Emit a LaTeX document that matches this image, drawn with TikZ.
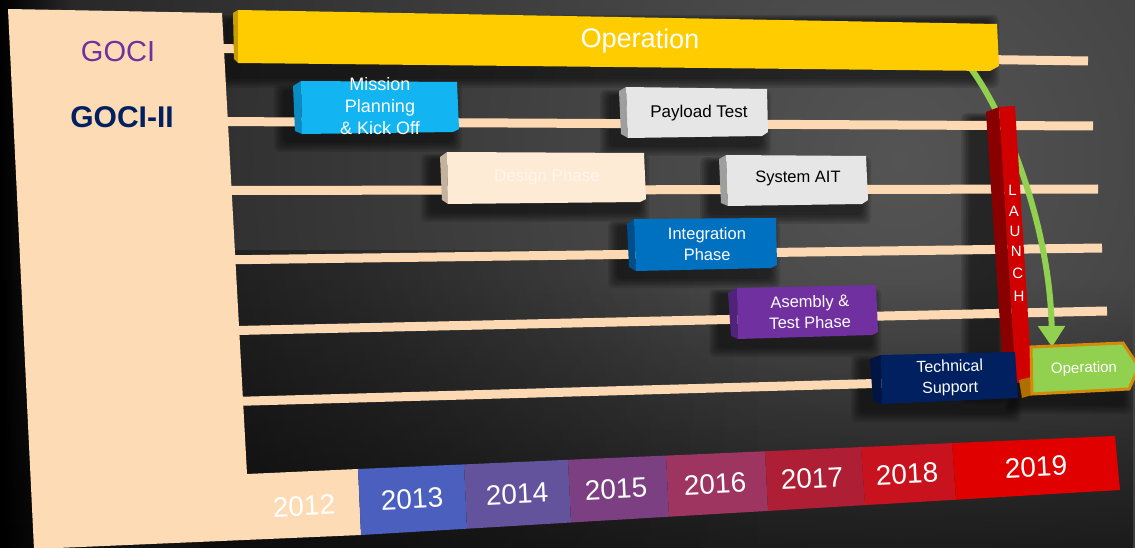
\documentclass[tikz,border=0pt]{standalone}
\usepackage{fontspec}
\setmainfont{Liberation Sans}
\usetikzlibrary{arrows.meta,fadings}

\definecolor{bglight}{HTML}{545454}
\definecolor{bgdark}{HTML}{0E0E0E}
\definecolor{peach}{HTML}{FDDCB5}
\definecolor{peachline}{HTML}{FCD9B2}
\definecolor{gold}{HTML}{FFCC00}
\definecolor{golddark}{HTML}{C99C00}
\definecolor{cyanbox}{HTML}{12B4F2}
\definecolor{cyanside}{HTML}{0A8CC2}
\definecolor{greybox}{HTML}{E6E6E6}
\definecolor{greyside}{HTML}{9E9E9E}
\definecolor{creambox}{HTML}{FDEBD6}
\definecolor{creamside}{HTML}{C4B19E}
\definecolor{creamtext}{HTML}{FFF5EA}
\definecolor{bluebox}{HTML}{0070C0}
\definecolor{blueside}{HTML}{004F8A}
\definecolor{purplebox}{HTML}{7030A0}
\definecolor{purpleside}{HTML}{50227A}
\definecolor{navybox}{HTML}{002060}
\definecolor{navyside}{HTML}{001542}
\definecolor{launchred}{HTML}{D00000}
\definecolor{launchside}{HTML}{880000}
\definecolor{opgreen}{HTML}{92D050}
\definecolor{oporange}{HTML}{D48A0A}
\definecolor{oporangedark}{HTML}{B06E00}
\definecolor{gocipurple}{HTML}{7030A0}
\definecolor{gocinavy}{HTML}{002060}
\definecolor{yrA}{HTML}{4A5FBE}
\definecolor{yrB}{HTML}{63539C}
\definecolor{yrC}{HTML}{7C3F82}
\definecolor{yrD}{HTML}{9E3560}
\definecolor{yrE}{HTML}{AE1E35}
\definecolor{yrF}{HTML}{C8131E}
\definecolor{yrG}{HTML}{E00000}

% soft shadow made of stacked translucent rectangles
\newcommand\dropshade[4]{%
  \foreach \k in {0,1,2,3,4,5}{%
    \fill[black, opacity=0.11, rounded corners=5pt]
      ({#1-10-1.8*\k},{#2+6-1.0*\k}) rectangle ({#3-6+1.8*\k},{#4+9+1.8*\k});
  }%
}

\tikzset{
  track/.style={draw=peachline, line width=9pt},
  boxtxt/.style={align=center, text=white, inner sep=0pt},
  yeartxt/.style={text=white, inner sep=0pt, rotate=2.8, font=\fontsize{28}{30}\selectfont},
  midtxt/.style={font=\fontsize{16.5}{21}\selectfont},
}

\begin{document}
\begin{tikzpicture}[x=1pt,y=-1pt]
\useasboundingbox (0,0) rectangle (1135,548);

% backdrop
\begin{scope}
  \clip (0,0) rectangle (1135,548);
  \fill[bgdark] (0,0) rectangle (1135,548);
  \shade[inner color=bglight, outer color=bgdark] (900,160) circle (1350);
  \fill[black, path fading=east] (0,0) rectangle (70,548);
  \fill[black, opacity=0.55, path fading=north] (0,280) rectangle (1135,548);
  \fill[black, opacity=0.35, path fading=east] (200,250) rectangle (760,548);
\end{scope}

% shadows cast by the blocks
\dropshade{236}{14}{996}{70}
\dropshade{293}{84}{459}{134}
\dropshade{619}{89}{768}{138}
\dropshade{440}{153}{646}{204}
\dropshade{719}{156}{868}{206}
\dropshade{627}{220}{777}{270}
\dropshade{728}{288}{878}{339}
\dropshade{870}{354}{1018}{404}
\dropshade{980}{112}{1004}{386}
\dropshade{1024}{347}{1130}{396}

% timeline tracks
\draw[track] (215,48.5) -- (1088,61);
\draw[track] (215,121.5) -- (1093,126);
\draw[track] (215,190.5) -- (1098,189);
\draw[track] (215,260) -- (1102,248);
\draw[track] (215,331) -- (1107,311);
\draw[track] (215,402) -- (1000,380);

% label panel with the 2012 cell
\fill[peach] (8,9) -- (222,13) -- (247,474) -- (358,469) -- (361,535) -- (34,549) -- cycle;
\node[text=gocipurple, font=\fontsize{29}{30}\selectfont, inner sep=0pt] (goci) at (118,52) {GOCI};
\node[text=gocinavy, font=\bfseries\fontsize{30}{30}\selectfont, inner sep=0pt] (goci2) at (122,117) {GOCI-II};

% year strip
\fill[yrA] (358,469) -- (464,464.4) -- (467,528.7) -- (361,535) -- cycle;
\fill[yrB] (464,464.4) -- (568,459.8) -- (571,522.5) -- (467,528.7) -- cycle;
\fill[yrC] (568,459.8) -- (666,455.6) -- (669,516.7) -- (571,522.5) -- cycle;
\fill[yrD] (666,455.6) -- (765,451.3) -- (768,510.9) -- (669,516.7) -- cycle;
\fill[yrE] (765,451.3) -- (861,447.1) -- (865,505.1) -- (768,510.9) -- cycle;
\fill[yrF] (861,447.1) -- (952,443.1) -- (956,499.7) -- (865,505.1) -- cycle;
\fill[yrG] (952,443.1) -- (1115,436) -- (1120,490) -- (956,499.7) -- cycle;
\node[yeartxt] (y2012) at (304,506) {2012};
\node[yeartxt] (y2013) at (412,499) {2013};
\node[yeartxt] (y2014) at (517,494) {2014};
\node[yeartxt] (y2015) at (616,489) {2015};
\node[yeartxt] (y2016) at (715,484) {2016};
\node[yeartxt] (y2017) at (812,478.5) {2017};
\node[yeartxt] (y2018) at (907,474) {2018};
\node[yeartxt] (y2019) at (1036,467) {2019};

% launch-to-operation arrow (runs behind the LAUNCH column)
\coordinate (arrS) at (966,62);
\coordinate (arrE) at (1052,347);
\draw[opgreen, line width=6pt, -{Triangle[width=26pt,length=21pt]}]
  (arrS) .. controls (1008,115) and (1050,230) .. (arrE);

% GOCI operation bar
\fill[golddark] (233,13) -- (238,10) -- (238,63) -- (234,59) -- cycle;
\fill[gold] (238,10) -- (997,24) -- (999,66) -- (990,71) -- (238,63) -- cycle;
\node[boxtxt, font=\fontsize{27}{30}\selectfont, rotate=-0.8] (oper) at (640,41) {Operation};

% mission planning
\fill[cyanside] (293,86) -- (301,81) -- (302,134) -- (295,131) -- cycle;
\fill[cyanbox] (301,81) -- (457,82) -- (459,129) -- (453,132) -- (302,134) -- cycle;
\node[boxtxt, font=\fontsize{18}{22}\selectfont] (mpk) at (380,106) {Mission\\Planning\\\& Kick Off};

% payload test
\fill[greyside] (619,91) -- (626,87) -- (628,138) -- (621,134) -- cycle;
\fill[greybox] (626,87) -- (767,89) -- (768,132) -- (762,136) -- (628,138) -- cycle;
\node[boxtxt, text=black, font=\fontsize{17}{20}\selectfont] (plt) at (699,113) {Payload Test};

% design phase
\fill[creamside] (440,157) -- (447,152) -- (448,204) -- (442,200) -- cycle;
\fill[creambox] (447,152) -- (644,153) -- (646,199) -- (640,202) -- (448,204) -- cycle;
\node[boxtxt, text=creamtext, font=\fontsize{17}{20}\selectfont] (dsg) at (547,177) {Design Phase};

% system AIT
\fill[greyside] (719,159) -- (726,155) -- (728,206) -- (721,203) -- cycle;
\fill[greybox] (726,155) -- (866,156) -- (868,200) -- (862,204) -- (728,206) -- cycle;
\node[boxtxt, text=black, font=\fontsize{16.5}{20}\selectfont] (ait) at (798,178) {System AIT};

% integration phase
\fill[blueside] (627,224) -- (634,219) -- (636,271) -- (629,267) -- cycle;
\fill[bluebox] (634,219) -- (776,218) -- (777,265) -- (771,268) -- (636,271) -- cycle;
\node[boxtxt, midtxt, rotate=0.5] (intg) at (707,244) {Integration\\Phase};

% assembly and test phase
\fill[purpleside] (728,293) -- (737,288) -- (738,339) -- (731,336) -- cycle;
\fill[purplebox] (737,288) -- (876,285) -- (878,332) -- (872,335) -- (738,339) -- cycle;
\node[boxtxt, midtxt, rotate=1] (asm) at (810,312) {Asembly \&\\Test Phase};

% LAUNCH column
\fill[launchside] (986,112) -- (999,107) -- (1016,383) -- (1004,385) -- cycle;
\fill[launchred] (999,107) -- (1015,106) -- (1032,381) -- (1016,383) -- cycle;
\foreach \ch/\yy in {L/190, A/211, U/231, N/251, C/273, H/296}{
  \node[text=white, inner sep=0pt, font=\fontsize{15}{15}\selectfont]
    (launch\ch) at ({1007.5+(\yy-107)*17/276},\yy) {\ch};
}

% technical support
\fill[navyside] (870,359) -- (881,355) -- (882,404) -- (873,401) -- cycle;
\fill[navybox] (881,355) -- (1015,352) -- (1018,398) -- (882,404) -- cycle;
\node[boxtxt, font=\fontsize{16}{21}\selectfont, rotate=1.5] (tsp) at (950,378) {Technical\\Support};

% GOCI-II operation
\fill[oporangedark] (1019,380) -- (1031,377) -- (1032,395) -- (1022,398) -- cycle;
\fill[opgreen, draw=oporange, line width=3pt, line join=miter]
  (1031,347) -- (1123,343) -- (1139,367) -- (1129,389) -- (1032,394) -- cycle;
\node[boxtxt, font=\fontsize{15}{18}\selectfont, rotate=1.5] (op2) at (1084,369) {Operation};

\end{tikzpicture}
\end{document}
